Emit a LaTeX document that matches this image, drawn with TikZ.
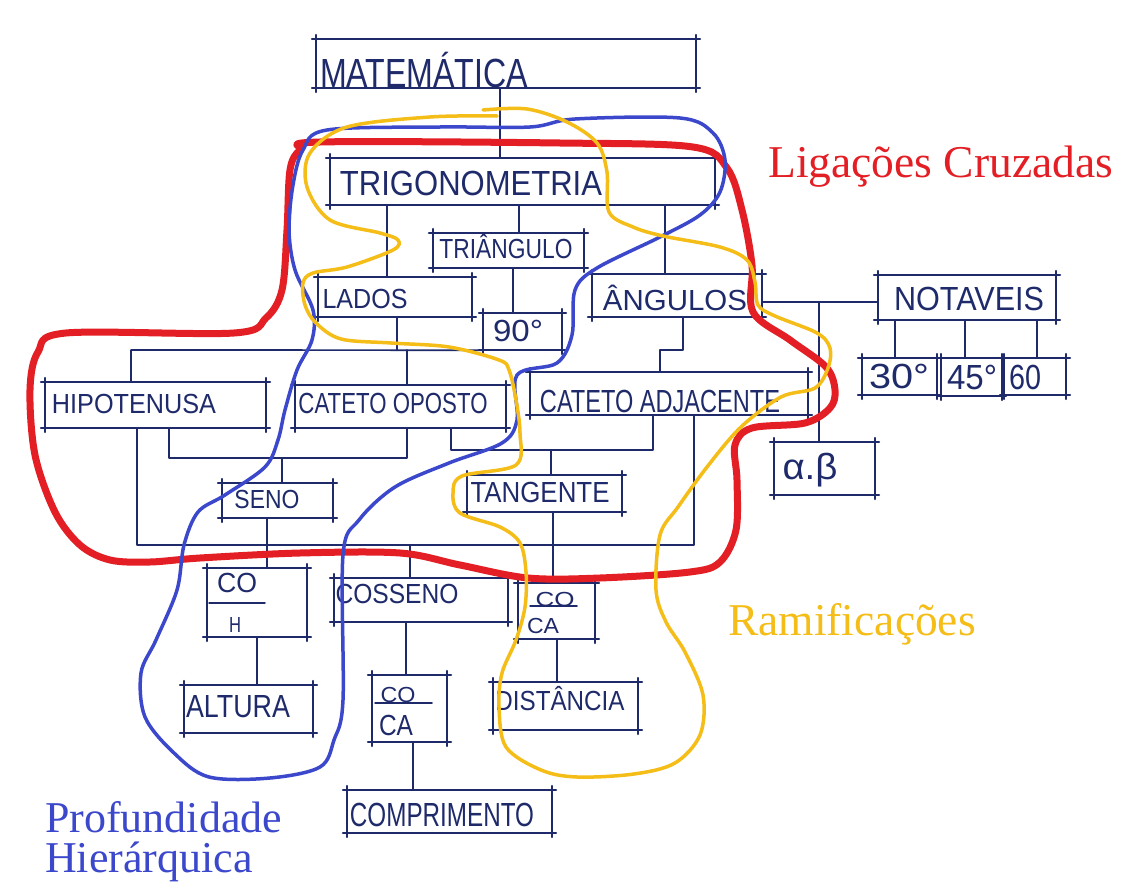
\documentclass[tikz,border=0pt]{standalone}
\usepackage{fontspec}
\usepackage{graphicx}
\newfontfamily\hwfont{Liberation Sans}
\newfontfamily\lblfont{Liberation Serif}
\definecolor{ink}{HTML}{1F2A6B}
\definecolor{lnkred}{HTML}{E31E24}
\definecolor{lnkgold}{HTML}{F5BD18}
\definecolor{lnkblue}{HTML}{3C48CC}
% hand lettering squeezed into a given width and cap height
\newcommand\hwtext[3]{\resizebox{#1pt}{#2pt}{\hwfont\vphantom{M}\smash{#3}}}
\tikzset{
  edgeline/.style={draw=ink, line width=1.7pt, shorten <=-4pt, shorten >=-4pt},
  sketchbox/.style={inner sep=0pt, append after command={
      (\tikzlastnode.north west) edge[edgeline] (\tikzlastnode.north east)
      (\tikzlastnode.north east) edge[edgeline] (\tikzlastnode.south east)
      (\tikzlastnode.south east) edge[edgeline] (\tikzlastnode.south west)
      (\tikzlastnode.south west) edge[edgeline] (\tikzlastnode.north west)}},
  hand/.style={inner sep=0pt, text=ink},
  link/.style={draw=ink, line width=1.7pt},
  fracbar/.style={draw=ink, line width=1.5pt},
  hull/.style={line width=#1, line cap=round, line join=round},
  tag/.style={inner sep=0pt, anchor=base west, font=\lblfont\fontsize{44}{44}\selectfont},
  bigtag/.style={tag, font=\lblfont\fontsize{45.5}{45.5}\selectfont}
}
\begin{document}
\begin{tikzpicture}[x=1pt, y=-1pt, line cap=round, line join=round]
\fill[white] (0,0) rectangle (1125,891);
\useasboundingbox (0,0) rectangle (1125,891);

% ---- boxes ----
\node[sketchbox, minimum width=380pt, minimum height=49pt] (mat)    at (506,63.5) {};
\node[sketchbox, minimum width=385pt, minimum height=47pt] (trig)   at (522.5,181.5) {};
\node[sketchbox, minimum width=151pt, minimum height=35pt] (tri)    at (508.5,250.5) {};
\node[sketchbox, minimum width=154pt, minimum height=40pt] (lados)  at (395,297) {};
\node[sketchbox, minimum width=79pt,  minimum height=37pt] (noventa) at (522.5,331.5) {};
\node[sketchbox, minimum width=170pt, minimum height=43pt] (ang)    at (677,295.5) {};
\node[sketchbox, minimum width=178pt, minimum height=45pt] (not)    at (967,297.5) {};
\node[sketchbox, minimum width=75pt,  minimum height=37pt] (t30)    at (899.5,376.5) {};
\node[sketchbox, minimum width=61pt,  minimum height=38pt] (t45)    at (971.5,377) {};
\node[sketchbox, minimum width=62pt,  minimum height=37pt] (t60)    at (1035,376.5) {};
\node[sketchbox, minimum width=101pt, minimum height=53pt] (lb)     at (824.5,468.5) {};
\node[sketchbox, minimum width=221pt, minimum height=46pt] (hip)    at (155.5,405) {};
\node[sketchbox, minimum width=211pt, minimum height=43pt] (cop)    at (400.5,406.5) {};
\node[sketchbox, minimum width=278pt, minimum height=43pt] (cad)    at (669,393.5) {};
\node[sketchbox, minimum width=111pt, minimum height=35pt] (seno)   at (277.5,500.5) {};
\node[sketchbox, minimum width=155pt, minimum height=37pt] (tan)    at (544.5,493.5) {};
\node[sketchbox, minimum width=100pt, minimum height=69pt] (coh)    at (257,602.5) {};
\node[sketchbox, minimum width=174pt, minimum height=44pt] (cos)    at (421,600) {};
\node[sketchbox, minimum width=77pt,  minimum height=56pt] (coca1)  at (556.5,611) {};
\node[sketchbox, minimum width=129pt, minimum height=48pt] (alt)    at (248.5,709) {};
\node[sketchbox, minimum width=75pt,  minimum height=67pt] (coca2)  at (409.5,708.5) {};
\node[sketchbox, minimum width=145pt, minimum height=48pt] (dist)   at (565.5,706) {};
\node[sketchbox, minimum width=205pt, minimum height=43pt] (comp)   at (449.5,811.5) {};

% ---- lettering ----
\node[hand] (txtmat)   at (424,73)  {\hwtext{208}{28}{MATEMÁTICA}};
\node[hand] (txttrig)  at (471,183) {\hwtext{262}{24}{TRIGONOMETRIA}};
\node[hand] (txttri)   at (506,249) {\hwtext{133}{19}{TRIÂNGULO}};
\node[hand] (txtlados) at (365,299) {\hwtext{85}{19}{LADOS}};
\node[hand] (txt90)    at (518,331) {\hwtext{50}{21}{90°}};
\node[hand] (txtang)   at (675,300) {\hwtext{144}{20}{ÂNGULOS}};
\node[hand] (txtnot)   at (969,299) {\hwtext{150}{23}{NOTAVEIS}};
\node[hand] (txt30)    at (899,376) {\hwtext{60}{24}{30°}};
\node[hand] (txt45)    at (972,377) {\hwtext{50}{24}{45°}};
\node[hand] (txt60)    at (1025,377) {\hwtext{32}{24}{60}};
\node[hand] (txtlb)    at (810,467) {\hwtext{55}{25}{α.β}};
\node[hand] (txthip)   at (134,404) {\hwtext{164}{19}{HIPOTENUSA}};
\node[hand] (txtcop)   at (393,403) {\hwtext{189}{20}{CATETO OPOSTO}};
\node[hand] (txtcad)   at (660,401) {\hwtext{240}{22}{CATETO ADJACENTE}};
\node[hand] (txtseno)  at (267,499) {\hwtext{65}{18}{SENO}};
\node[hand] (txttan)   at (540,492) {\hwtext{139}{20}{TANGENTE}};
\node[hand] (txtcohn)  at (237,583) {\hwtext{40}{19}{CO}};
\node[hand] (txtcohd)  at (235,625) {\hwtext{12}{15}{H}};
\node[hand] (txtcos)   at (397,594) {\hwtext{123}{19}{COSSENO}};
\node[hand] (txtca1n)  at (555,599) {\hwtext{39}{14}{CO}};
\node[hand] (txtca1d)  at (543,626) {\hwtext{32}{15}{CA}};
\node[hand] (txtalt)   at (238,706) {\hwtext{104}{22}{ALTURA}};
\node[hand] (txtca2n)  at (398,695) {\hwtext{35}{15}{CO}};
\node[hand] (txtca2d)  at (396,725) {\hwtext{34}{20}{CA}};
\node[hand] (txtdist)  at (560,701) {\hwtext{129}{19}{DISTÂNCIA}};
\node[hand] (txtcomp)  at (442,815) {\hwtext{184}{23}{COMPRIMENTO}};

% fraction bars
\draw[fracbar] (209,603) -- (265,603);
\draw[fracbar] (530,606) -- (577,606);
\draw[fracbar] (375,703) -- (432,703);

% ---- connectors ----
\draw[link] (mat.south -| 500,0) -- (trig.north -| 500,0);
\draw[link] (trig.south -| 387,0) -- (lados.north -| 387,0);
\draw[link] (trig.south -| 519,0) -- (tri.north -| 519,0);
\draw[link] (trig.south -| 665,0) -- (ang.north -| 665,0);
\draw[link] (tri.south -| 513,0) -- (noventa.north -| 513,0);

\coordinate (ladosbar) at (397,350);
\coordinate (hipbar) at (131,350);
\coordinate (copbar) at (407,350);
\draw[link] (lados.south -| ladosbar) -- (ladosbar);
\draw[link] (hip.north -| hipbar) -- (hipbar) -- (noventa.south west);
\draw[link] (copbar) -- (cop.north -| copbar);

\coordinate (angknee) at (683,350);
\coordinate (cadbar) at (660,350);
\draw[link] (ang.south -| angknee) -- (angknee) -- (cadbar) -- (cad.north -| cadbar);

\coordinate (notjoin) at (819,302);
\draw[link] (ang.east |- notjoin) -- (not.west |- notjoin);
\draw[link] (notjoin) -- (lb.north -| notjoin);
\draw[link] (not.south -| 895,0) -- (t30.north -| 895,0);
\draw[link] (not.south -| 965,0) -- (t45.north -| 965,0);
\draw[link] (not.south -| 1037,0) -- (t60.north -| 1037,0);

\coordinate (senoL) at (169,458);
\coordinate (senoR) at (407,458);
\coordinate (senoJ) at (282,458);
\draw[link] (hip.south -| senoL) -- (senoL) -- (senoR) -- (cop.south -| senoR);
\draw[link] (senoJ) -- (seno.north -| senoJ);

\coordinate (tanL) at (451,450);
\coordinate (tanR) at (653,450);
\coordinate (tanJ) at (551,450);
\draw[link] (cop.south -| tanL) -- (tanL) -- (tanR) -- (cad.south -| tanR);
\draw[link] (tanJ) -- (tan.north -| tanJ);

\coordinate (cosL) at (137,545);
\coordinate (cosR) at (694,545);
\coordinate (cosJ) at (410,545);
\draw[link] (hip.south -| cosL) -- (cosL) -- (cosR) -- (cad.south -| cosR);
\draw[link] (cosJ) -- (cos.north -| cosJ);

\draw[link] (seno.south -| 267,0) -- (coh.north -| 267,0);
\draw[link] (tan.south -| 553,0) -- (coca1.north -| 553,0);
\draw[link] (coh.south -| 257,0) -- (alt.north -| 257,0);
\draw[link] (cos.south -| 406,0) -- (coca2.north -| 406,0);
\draw[link] (coca2.south -| 413,0) -- (comp.north -| 413,0);
\draw[link] (coca1.south -| 557,0) -- (dist.north -| 557,0);

% ---- highlighted regions ----
\draw[lnkred, hull=7pt] plot[smooth cycle, tension=0.55] coordinates {
  (320,142) (560,143) (693,147) (727,168) (742,210) (752,265) (753,312)
  (790,340) (826,367) (835,390) (830,408) (805,423) (752,428) (735,445)
  (737,480) (736,530) (720,562) (690,572) (600,578) (528,578) (460,565)
  (400,553) (300,553) (200,558) (150,562) (110,560) (80,545) (55,512)
  (35,455) (30,390) (38,352) (66,333) (234,333) (266,318) (282,290)
  (287,230) (290,170) (300,150)};

\draw[lnkblue, hull=3.5pt] plot[smooth cycle, tension=0.55] coordinates {
  (327,130) (440,127) (530,127) (575,119) (680,118) (713,133) (725,160)
  (720,192) (700,215) (660,237) (597,268) (575,290) (572,335) (557,363)
  (517,375) (517,420) (502,443) (449,463) (395,487) (359,520) (343,555)
  (343,700) (334,740) (320,767) (270,778) (209,777) (174,753) (145,717)
  (141,673) (156,640) (177,590) (184,545) (198,512) (225,495) (265,467)
  (278,440) (285,410) (297,370) (312,340) (313,310) (295,270) (289,230)
  (293,185) (303,150)};

\draw[lnkgold, hull=3.5pt] plot[smooth, tension=0.55] coordinates {
  (483,110) (527,109) (567,122) (597,143) (607,172) (609,212) (633,227)
  (663,236) (720,247) (747,260) (755,282) (758,305) (775,316) (817,333)
  (830,348) (828,368) (815,388) (781,397) (741,427) (707,467) (678,507)
  (660,535) (656,590) (666,622) (685,652) (703,695) (700,735) (675,763)
  (634,774) (577,777) (541,770) (506,747) (499,707) (502,673) (516,640)
  (525,607) (526,572) (520,543) (500,527) (460,513) (453,493) (462,476)
  (516,465) (520,433) (516,400) (509,370) (499,360) (449,347) (391,343)
  (341,339) (316,323) (305,305) (303,283) (313,273) (347,267) (393,250)
  (398,240) (380,233) (330,220) (307,187) (310,153) (347,127) (430,117)
  (497,116)};

% ---- captions ----
\node[bigtag, text=lnkred]  (capcross) at (768,177) {Ligações Cruzadas};
\node[bigtag, text=lnkgold] (capbranch) at (728,635) {Ramificações};
\node[tag, text=lnkblue] (capdepth1) at (45,832) {Profundidade};
\node[tag, text=lnkblue] (capdepth2) at (45,872) {Hierárquica};
\end{tikzpicture}
\end{document}
